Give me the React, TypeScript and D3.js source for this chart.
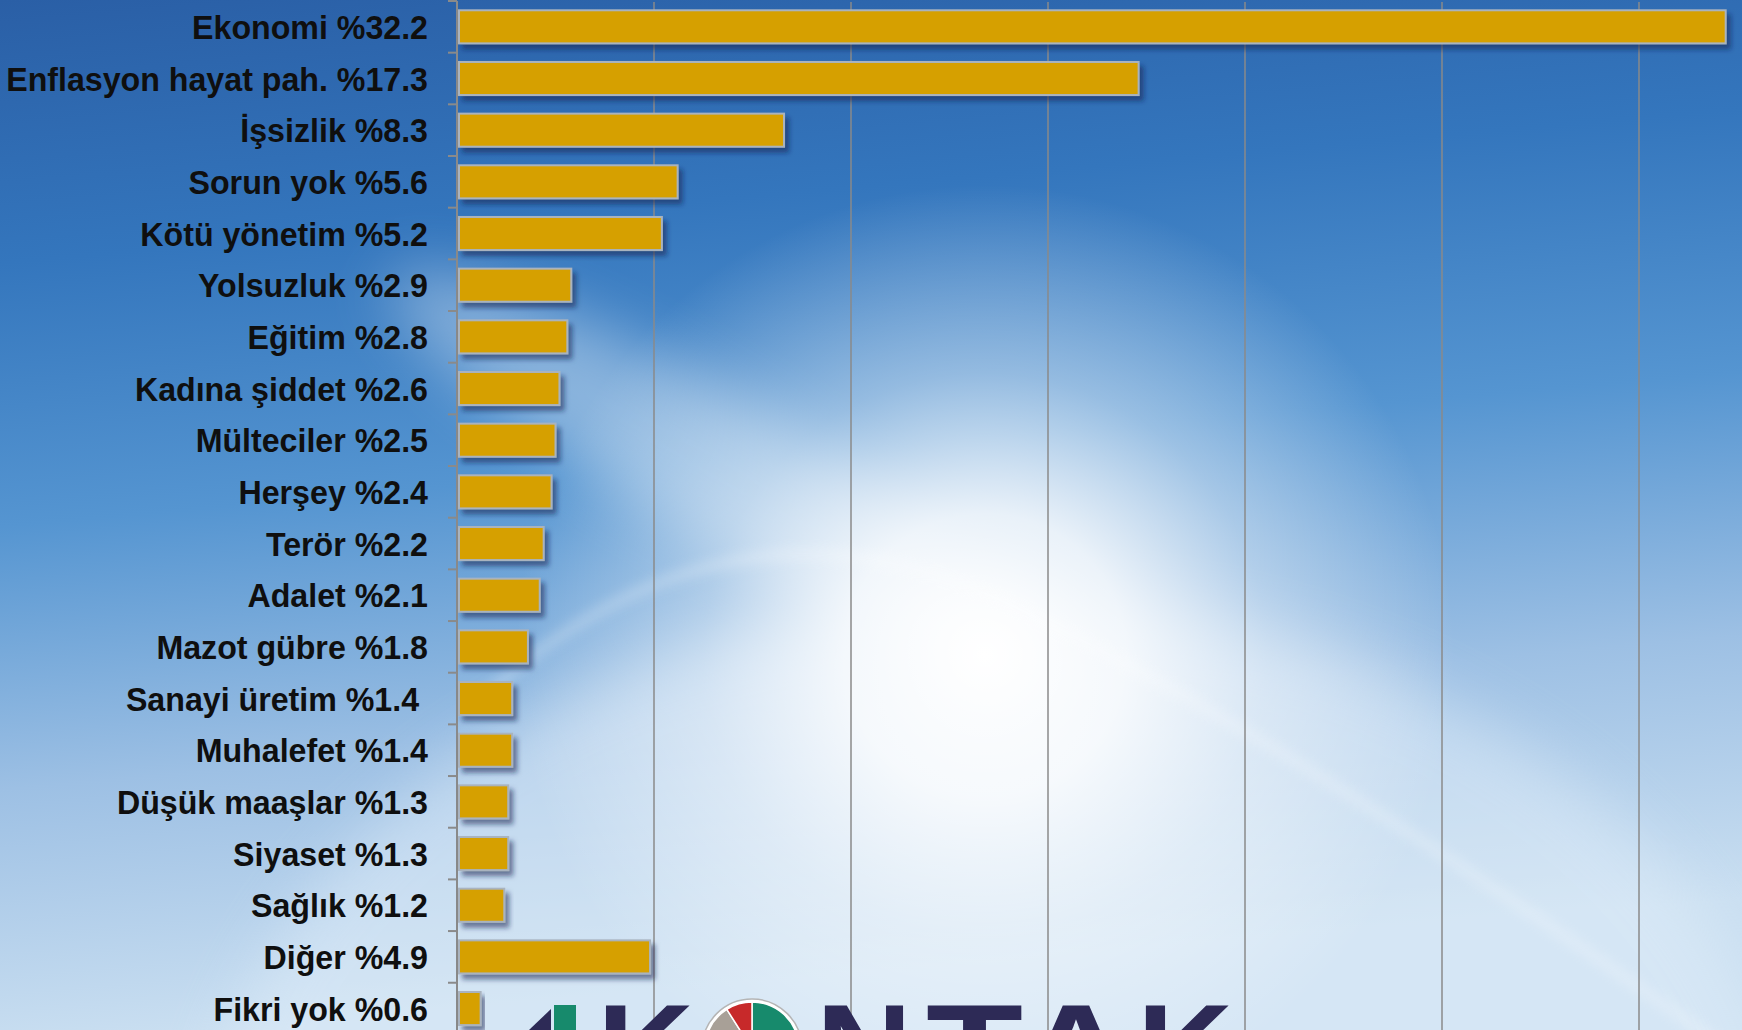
import React, { useEffect, useRef } from 'react';
import * as d3 from 'd3';

// survey answers: most important problem (%)
const categories = [
  'Ekonomi', 'Enflasyon hayat pah.', 'İşsizlik', 'Sorun yok', 'Kötü yönetim',
  'Yolsuzluk', 'Eğitim', 'Kadına şiddet', 'Mülteciler', 'Herşey', 'Terör',
  'Adalet', 'Mazot gübre', 'Sanayi üretim', 'Muhalefet', 'Düşük maaşlar',
  'Siyaset', 'Sağlık', 'Diğer', 'Fikri yok'
];
const values = [32.2, 17.3, 8.3, 5.6, 5.2, 2.9, 2.8, 2.6, 2.5, 2.4, 2.2, 2.1, 1.8, 1.4, 1.4, 1.3, 1.3, 1.2, 4.9, 0.6];
// "Sanayi üretim" label carries a trailing space in the original
const labelTails = ['', '', '', '', '', '', '', '', '', '', '', '', '', '\u00a0', '', '', '', '', '', ''];
const gridTicks = [5, 10, 15, 20, 25, 30, 35];

// logo pieces
const logoLetters = ['K', 'N', 'T', 'A', 'K'];
const logoLetterX = [597, 816, 926, 1020, 1137];
const logoLetterW = [97, 96, 97, 112, 96];
const logoSlices = [
  { color: '#178a6c', a0: 0, a1: Math.PI * 0.8 },
  { color: '#a8a097', a0: -Math.PI * 0.42, a1: -Math.PI * 0.18 },
  { color: '#c7292a', a0: -Math.PI * 0.18, a1: 0 }
];

const W = 1742;
const H = 1030;

const App: React.FC = () => {
  const svgRef = useRef<SVGSVGElement>(null);

  useEffect(() => {
    if (!svgRef.current) return;
    const svg = d3.select(svgRef.current);
    svg.selectAll('*').remove();

    const defs = svg.append('defs');

    const bg = defs.append('linearGradient')
      .attr('id', 'bg').attr('x1', 0).attr('y1', 0).attr('x2', 0.15).attr('y2', 1);
    [[0, '#2a5fa6'], [0.25, '#3476bd'], [0.5, '#5595d1'], [0.75, '#9dc0e4'], [1, '#cadff1']]
      .forEach(([o, c]) => bg.append('stop').attr('offset', o as number).attr('stop-color', c as string));

    const glow = defs.append('radialGradient')
      .attr('id', 'glow').attr('gradientUnits', 'userSpaceOnUse')
      .attr('cx', 985).attr('cy', 655).attr('r', 470);
    [[0, 1], [0.3, 0.85], [0.6, 0.4], [1, 0]]
      .forEach(([o, a]) => glow.append('stop').attr('offset', o).attr('stop-color', '#ffffff').attr('stop-opacity', a));

    const blur = defs.append('filter').attr('id', 'blur')
      .attr('x', '-50%').attr('y', '-50%').attr('width', '200%').attr('height', '200%');
    blur.append('feGaussianBlur').attr('stdDeviation', 30);

    const soft = defs.append('filter').attr('id', 'soft')
      .attr('x', '-20%').attr('y', '-20%').attr('width', '140%').attr('height', '140%');
    soft.append('feGaussianBlur').attr('stdDeviation', 6);

    const shadow = defs.append('filter').attr('id', 'shadow')
      .attr('x', '-10%').attr('y', '-40%').attr('width', '130%').attr('height', '190%');
    shadow.append('feDropShadow')
      .attr('dx', 4).attr('dy', 5).attr('stdDeviation', 2.5)
      .attr('flood-color', '#0e2450').attr('flood-opacity', 0.55);

    // Background
    svg.append('rect').attr('width', W).attr('height', H).attr('fill', 'url(#bg)');
    svg.append('ellipse')
      .attr('cx', 1000).attr('cy', 1200).attr('rx', 800).attr('ry', 600)
      .attr('fill', '#e4f0fa').attr('opacity', 0.45).attr('filter', 'url(#blur)');
    svg.append('ellipse')
      .attr('cx', 720).attr('cy', 470).attr('rx', 380).attr('ry', 70)
      .attr('transform', 'rotate(30,720,470)')
      .attr('fill', '#ffffff').attr('opacity', 0.35).attr('filter', 'url(#blur)');
    svg.append('rect').attr('width', W).attr('height', H).attr('fill', 'url(#glow)');
    svg.append('path')
      .attr('d', 'M470,710 Q720,470 1000,600 T1742,1060')
      .attr('fill', 'none').attr('stroke', '#ffffff').attr('stroke-width', 12)
      .attr('opacity', 0.22).attr('filter', 'url(#soft)');

    // Scales
    const y = d3.scaleBand<string>()
      .domain(categories)
      .range([1, 1 + 51.67 * categories.length])
      .paddingInner(0.36)
      .paddingOuter(0.18);
    const x = d3.scaleLinear().domain([0, 35]).range([457, 457 + 35 * 39.4]);

    const g = svg.append('g');

    // Grid lines
    g.selectAll('line.grid')
      .data(gridTicks)
      .enter().append('line')
      .attr('x1', d => x(d)).attr('x2', d => x(d))
      .attr('y1', 2).attr('y2', H)
      .attr('stroke', '#8a8a8a').attr('stroke-width', 1.5);

    // Logo (sits behind the bars)
    const logo = g.append('g');
    logo.append('path')
      .attr('d', 'M529,1030 L551,1009 L551,1030 Z')
      .attr('fill', '#2d2a56');
    logo.append('rect')
      .attr('x', 554).attr('y', 1005).attr('width', 22).attr('height', 30)
      .attr('fill', '#178a6c');
    logoLetters.forEach((l, i) => {
      logo.append('text')
        .attr('x', logoLetterX[i]).attr('y', 1095)
        .attr('font-family', 'Liberation Sans, Arial, sans-serif')
        .attr('font-weight', 700).attr('font-size', 130)
        .attr('textLength', logoLetterW[i]).attr('lengthAdjust', 'spacingAndGlyphs')
        .attr('fill', '#2d2a56')
        .text(l);
    });
    const pieG = logo.append('g').attr('transform', 'translate(752,1049)');
    pieG.append('circle').attr('r', 50).attr('fill', '#ffffff').attr('stroke', '#b5b5b5').attr('stroke-width', 1.5);
    const arc = d3.arc<any>().innerRadius(0).outerRadius(47);
    logoSlices.forEach(s => {
      pieG.append('path')
        .attr('d', arc({ startAngle: s.a0, endAngle: s.a1 }) as string)
        .attr('fill', s.color).attr('stroke', '#ffffff').attr('stroke-width', 1.5);
    });

    // Axis line + ticks
    g.append('line')
      .attr('x1', x(0)).attr('x2', x(0))
      .attr('y1', 1).attr('y2', H)
      .attr('stroke', '#8a8a8a').attr('stroke-width', 2);
    d3.range(categories.length + 1).forEach(i => {
      const ty = y.range()[0] + i * y.step();
      g.append('line')
        .attr('x1', x(0) - 9).attr('x2', x(0))
        .attr('y1', ty).attr('y2', ty)
        .attr('stroke', '#8a8a8a').attr('stroke-width', 2);
    });

    // Bars
    g.selectAll('rect.bar')
      .data(categories)
      .enter().append('rect')
      .attr('class', 'bar')
      .attr('x', x(0) + 2)
      .attr('y', d => y(d) as number)
      .attr('width', (d, i) => x(values[i]) - x(0) - 2)
      .attr('height', y.bandwidth())
      .attr('fill', '#d6a000')
      .attr('stroke', '#a9b3bf')
      .attr('stroke-width', 2)
      .attr('filter', 'url(#shadow)');

    // Labels
    g.selectAll('text.label')
      .data(categories)
      .enter().append('text')
      .attr('class', 'label')
      .attr('transform', d => `translate(428,${(y(d) as number) + y.bandwidth() / 2 + 12}) scale(0.975,1.03)`)
      .attr('text-anchor', 'end')
      .attr('font-family', 'Liberation Sans, Arial, sans-serif')
      .attr('font-weight', 700)
      .attr('font-size', 33)
      .attr('fill', '#0f0f0f')
      .text((d, i) => `${d} %${values[i]}${labelTails[i]}`);
  }, []);

  return (
    <svg
      ref={svgRef}
      width={W}
      height={H}
      style={{ position: 'fixed', left: 0, top: 0, display: 'block' }}
    />
  );
};

export default App;
